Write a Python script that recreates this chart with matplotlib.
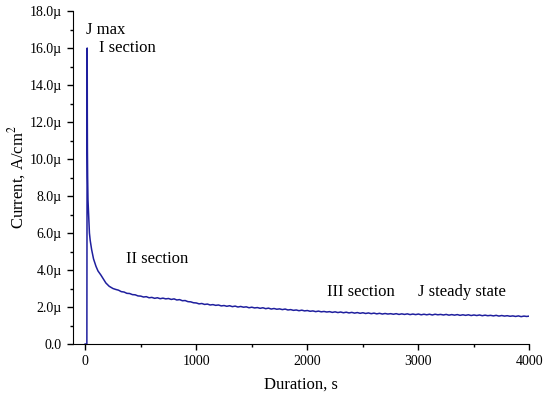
import matplotlib
matplotlib.use("Agg")
import matplotlib.pyplot as plt
from matplotlib.ticker import FuncFormatter, MultipleLocator

plt.rcParams["font.family"] = ["Liberation Serif", "DejaVu Serif"]
plt.rcParams["mathtext.fontset"] = "stix"

# early transient (s, µA/cm²)
t_early = [0, 10, 15, 17, 18, 19, 20, 22, 25, 32, 38, 45, 58, 75, 97, 115, 141, 165, 186, 216]
j_early = [0.0, 0.0, 0.0, 8.0, 16.0, 12.4, 10.5, 9.0, 7.8, 6.9, 6.0, 5.6, 5.1, 4.6, 4.2,
           3.95, 3.73, 3.5, 3.3, 3.12]

# slow decay, read every 25 s from 250 s
j_tail = [3.00, 2.95, 2.91, 2.83, 2.81, 2.74, 2.73, 2.67, 2.66, 2.60,
          2.59, 2.54, 2.56, 2.50, 2.52, 2.47, 2.50, 2.45, 2.48, 2.44,
          2.46, 2.41, 2.44, 2.38, 2.40, 2.34, 2.35, 2.29, 2.28, 2.23,
          2.22, 2.17, 2.19, 2.14, 2.16, 2.11, 2.13, 2.09, 2.11, 2.06,
          2.08, 2.04, 2.07, 2.02, 2.05, 2.00, 2.03, 1.99, 2.01, 1.96,
          1.99, 1.95, 1.97, 1.93, 1.96, 1.91, 1.94, 1.89, 1.92, 1.88,
          1.90, 1.86, 1.89, 1.84, 1.86, 1.82, 1.84, 1.80, 1.83, 1.79,
          1.81, 1.77, 1.79, 1.75, 1.78, 1.74, 1.76, 1.73, 1.75, 1.71,
          1.74, 1.70, 1.73, 1.69, 1.72, 1.68, 1.71, 1.67, 1.70, 1.66,
          1.69, 1.65, 1.68, 1.64, 1.67, 1.63, 1.66, 1.62, 1.65, 1.62,
          1.64, 1.61, 1.64, 1.60, 1.63, 1.60, 1.63, 1.59, 1.62, 1.59,
          1.62, 1.58, 1.61, 1.58, 1.61, 1.57, 1.61, 1.58, 1.60, 1.57,
          1.60, 1.56, 1.59, 1.56, 1.59, 1.55, 1.58, 1.55, 1.58, 1.54,
          1.57, 1.54, 1.57, 1.53, 1.56, 1.53, 1.55, 1.52, 1.55, 1.51,
          1.54, 1.51, 1.53, 1.50, 1.52, 1.49, 1.52, 1.48, 1.51, 1.49,
          1.51]
t_tail = [250 + 25 * i for i in range(len(j_tail))]

t = t_early + t_tail
j = j_early + j_tail

labels = ["J max", "I section", "II section", "III section", "J steady state"]
label_t = [10, 125, 370, 2180, 3000]
label_j = [17.0, 16.0, 4.6, 2.8, 2.8]


def fmt_micro(v, pos):
    if abs(v) < 1e-9:
        return "0.0"
    return f"{v:.1f}\u00b5"


fig = plt.figure(figsize=(5.5, 3.99), dpi=100)
ax = fig.add_axes([0.1327, 0.1378, 0.9627 - 0.1327, 0.9724 - 0.1378])

ax.plot(t, j, color="#1f1f9e", linewidth=1.1)

for text, tx, ty in zip(labels, label_t, label_j):
    ax.text(tx, ty, text, fontsize=12, ha="left", va="center")

ax.set_xlim(-110, 4000)
ax.set_ylim(0, 18)
ax.xaxis.set_major_locator(MultipleLocator(1000))
ax.xaxis.set_minor_locator(MultipleLocator(500))
ax.yaxis.set_major_locator(MultipleLocator(2))
ax.yaxis.set_minor_locator(MultipleLocator(1))
ax.yaxis.set_major_formatter(FuncFormatter(fmt_micro))

ax.spines["top"].set_visible(False)
ax.spines["right"].set_visible(False)
ax.tick_params(which="major", direction="out", length=4.5, width=1, labelsize=10)
ax.tick_params(which="minor", direction="out", length=2.5, width=1)

ax.set_xlabel("Duration, s", fontsize=12, labelpad=6)
ax.set_ylabel("Current, A/cm$^2$", fontsize=12, labelpad=1)

fig.savefig("out.png", dpi=100)
